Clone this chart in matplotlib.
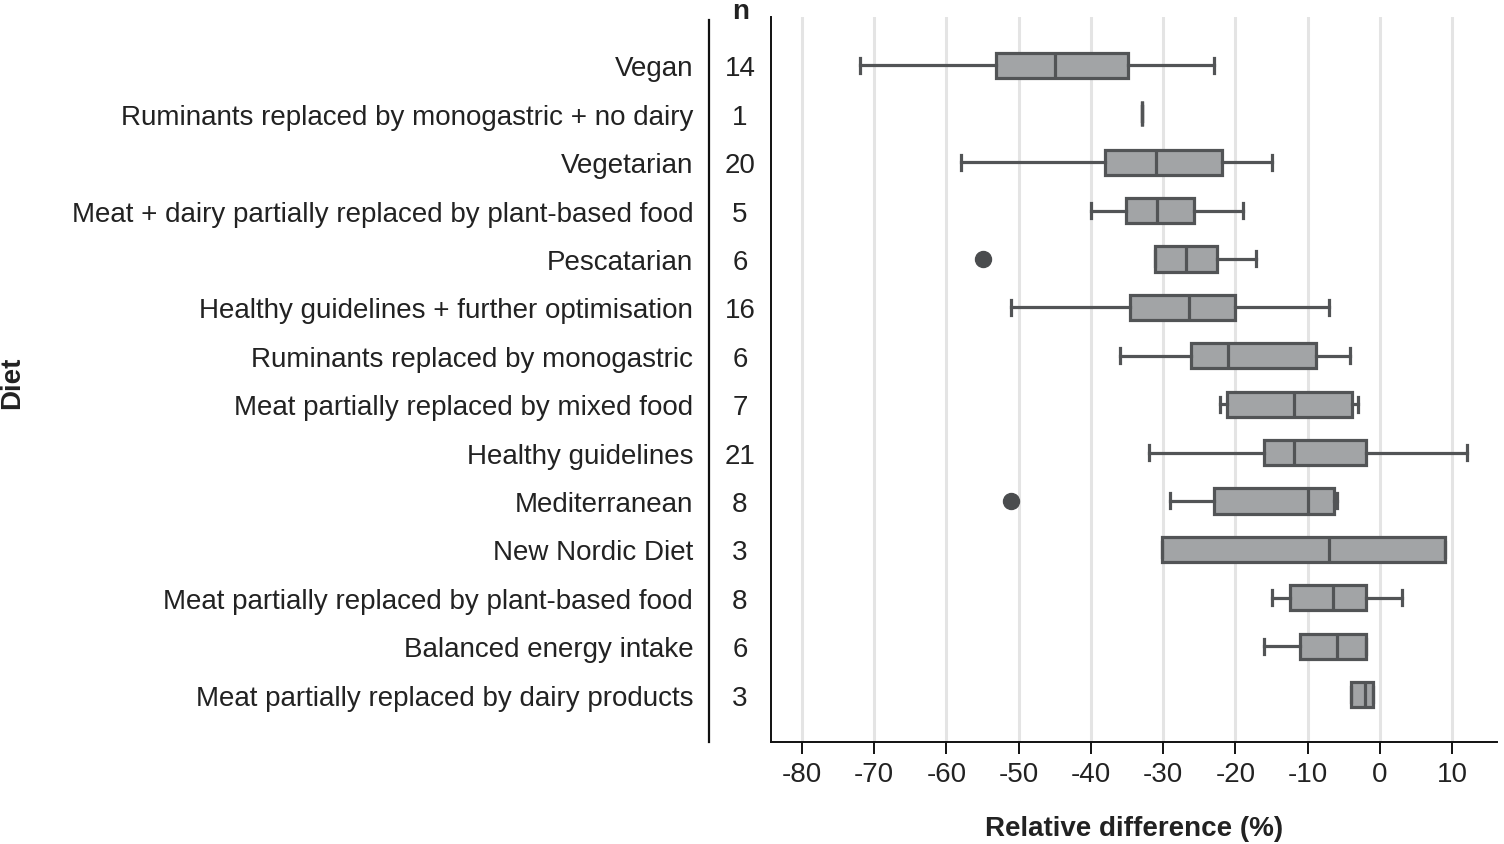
import matplotlib
matplotlib.use("Agg")
import matplotlib.pyplot as plt

plt.rcParams["font.family"] = ["Liberation Sans", "DejaVu Sans"]

# Data
diets = [
    "Vegan",
    "Ruminants replaced by monogastric + no dairy",
    "Vegetarian",
    "Meat + dairy partially replaced by plant-based food",
    "Pescatarian",
    "Healthy guidelines + further optimisation",
    "Ruminants replaced by monogastric",
    "Meat partially replaced by mixed food",
    "Healthy guidelines",
    "Mediterranean",
    "New Nordic Diet",
    "Meat partially replaced by plant-based food",
    "Balanced energy intake",
    "Meat partially replaced by dairy products",
]
n_values = [14, 1, 20, 5, 6, 16, 6, 7, 21, 8, 3, 8, 6, 3]
whis_low = [-72.0, -33.0, -58.0, -40.0, -31.1, -51.0, -36.0, -22.1, -32.0, -29.0, -30.1, -15.0, -16.0, -4.0]
q1 = [-53.1, -33.0, -38.1, -35.1, -31.1, -34.6, -26.1, -21.1, -16.1, -23.0, -30.1, -12.5, -11.1, -4.0]
median = [-45.0, -33.0, -31.0, -30.8, -26.9, -26.4, -21.0, -11.9, -11.9, -10.0, -7.0, -6.5, -6.0, -2.0]
q3 = [-34.9, -33.0, -21.9, -25.7, -22.5, -20.0, -8.9, -3.9, -1.9, -6.4, 9.0, -1.9, -1.9, -0.9]
whis_high = [-23.0, -33.0, -15.0, -19.0, -17.1, -7.0, -4.1, -3.0, 12.0, -6.0, 9.0, 3.0, -1.9, -0.9]
outliers = [[], [], [], [], [-55.0], [], [], [], [], [-51.0], [], [], [], []]
x_ticks = [-80, -70, -60, -50, -40, -30, -20, -10, 0, 10]

stats = []
for i in range(len(diets)):
    stats.append({
        "label": diets[i],
        "whislo": whis_low[i],
        "q1": q1[i],
        "med": median[i],
        "q3": q3[i],
        "whishi": whis_high[i],
        "fliers": outliers[i],
    })

fig = plt.figure(figsize=(15.04, 8.45), dpi=100)
ax = fig.add_axes([0.5126, 0.1207, 0.4827, 0.858])

edge = "#525456"
fs = 20
positions = list(range(1, len(diets) + 1))
ax.bxp(
    stats,
    positions=positions,
    orientation="horizontal",
    widths=0.52,
    capwidths=0.31,
    patch_artist=True,
    boxprops=dict(facecolor="#a2a4a6", edgecolor=edge, linewidth=2.3),
    medianprops=dict(color=edge, linewidth=2.3),
    whiskerprops=dict(color=edge, linewidth=2.3),
    capprops=dict(color=edge, linewidth=2.3),
    flierprops=dict(marker="o", markerfacecolor="#4a4c4e", markeredgecolor="#4a4c4e",
                    markersize=11.5),
    zorder=3,
)

ax.set_xlim(-84.3, 16.2)
ax.set_ylim(14.98, 0.0)
ax.set_xticks(x_ticks)
ax.set_xticklabels([str(t) for t in x_ticks], fontsize=fs, color="#222222")
ax.set_yticks(positions)
ax.set_yticklabels(diets, fontsize=fs, color="#222222")
ax.tick_params(axis="y", length=0, pad=56)
ax.tick_params(axis="x", length=8.5, width=1.3, pad=5, direction="out")
ax.grid(axis="x", color="#e4e4e4", linewidth=2.2, zorder=0)
ax.set_axisbelow(True)
for side in ["top", "right"]:
    ax.spines[side].set_visible(False)
for side in ["left", "bottom"]:
    ax.spines[side].set_linewidth(1.4)
    ax.spines[side].set_color("#111111")

# n column
for pos, n in zip(positions, n_values):
    ax.text(-0.0427, pos, str(n), transform=ax.get_yaxis_transform(),
            ha="center", va="center_baseline", fontsize=fs, color="#222222")
ax.text(-0.0413, 1.0085, "n", transform=ax.transAxes, ha="center", va="center",
        fontsize=fs, fontweight="bold", color="#222222")
ax.plot([-0.0854, -0.0854], [0.0, 0.996], transform=ax.transAxes, color="#111111",
        linewidth=1.6, clip_on=False)

ax.set_xlabel("Relative difference (%)", fontsize=fs, fontweight="bold",
              color="#222222", labelpad=20)
fig.text(0.008, 0.547, "Diet", rotation=90, ha="center", va="center",
         fontsize=fs, fontweight="bold", color="#222222")

fig.savefig("out.png", dpi=100)
